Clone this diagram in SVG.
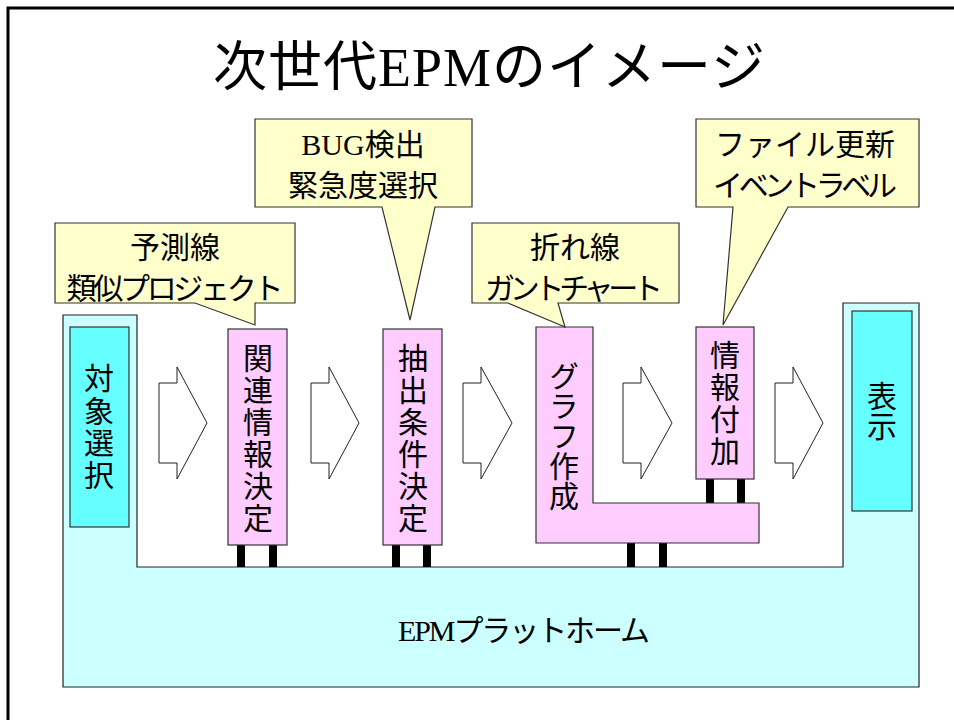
<svg xmlns="http://www.w3.org/2000/svg" width="954" height="720" viewBox="0 0 954 720">
<defs>
<style>
.t{font-family:"Noto Sans CJK JP","Liberation Sans",sans-serif;fill:#000;}
.s{font-family:"Liberation Serif","Noto Sans CJK JP",serif;fill:#000;}
.c{font-size:30px;text-anchor:middle;}
.v{font-size:30px;writing-mode:vertical-rl;text-anchor:start;}
.call{fill:#FFFFCC;stroke:#333;stroke-width:1.2;}
.pink{fill:#FFCCFF;stroke:#333;stroke-width:1.2;}
.cyan{fill:#66FFFF;stroke:#333;stroke-width:1.2;}
.plat{fill:#CCFFFF;stroke:#222;stroke-width:1.2;}
.arr{fill:#FFFFFF;stroke:#222;stroke-width:1;}
.leg{fill:#000;}
</style>
</defs>
<rect x="0" y="0" width="954" height="720" fill="#FFFFFF"/>
<rect x="8" y="8" width="990" height="760" fill="none" stroke="#000" stroke-width="3"/>

<g id="title">
<text class="s" x="489" y="86" font-size="54" text-anchor="middle" textLength="552" lengthAdjust="spacing">次世代EPMのイメージ</text>
</g>

<g id="platform">
<path class="plat" d="M63,315 H137 V567 H843 V303 H919 V687 H63 Z"/>
<text class="s" x="524" y="641" font-size="30" text-anchor="middle" textLength="252" lengthAdjust="spacing">EPMプラットホーム</text>
</g>

<g id="connectors">
<path class="arr" d="M159,383 H177 V367 L207,423 L177,479 V463 H159 Z"/>
<path class="arr" d="M311,383 H329 V367 L359,423 L329,479 V463 H311 Z"/>
<path class="arr" d="M463,383 H481 V367 L512,423 L481,479 V463 H463 Z"/>
<path class="arr" d="M623,383 H641 V367 L672,423 L641,479 V463 H623 Z"/>
<path class="arr" d="M775,383 H793 V367 L823,423 L793,479 V463 H775 Z"/>
<rect class="leg" x="237" y="545" width="8" height="22"/>
<rect class="leg" x="269" y="545" width="8" height="22"/>
<rect class="leg" x="392" y="545" width="8" height="22"/>
<rect class="leg" x="423" y="545" width="8" height="22"/>
<rect class="leg" x="627" y="543" width="8" height="24"/>
<rect class="leg" x="659" y="543" width="8" height="24"/>
<rect class="leg" x="706" y="479" width="8" height="24"/>
<rect class="leg" x="737" y="479" width="8" height="24"/>
</g>

<g id="taisho">
<rect class="cyan" x="70" y="327" width="59" height="200"/>
<text class="t v" x="99" y="363" letter-spacing="2.3">対象選択</text>
</g>

<g id="kanren">
<rect class="pink" x="228" y="329" width="59" height="216"/>
<text class="t v" x="258" y="343" letter-spacing="2">関連情報決定</text>
</g>

<g id="chushutsu">
<rect class="pink" x="383" y="329" width="59" height="216"/>
<text class="t v" x="413" y="343" letter-spacing="2">抽出条件決定</text>
</g>

<g id="graph">
<path class="pink" d="M536,327 H593 V503 H759 V543 H536 Z"/>
<text class="t v" x="564" y="361">グラフ作成</text>
</g>

<g id="johofuka">
<rect class="pink" x="696" y="327" width="58" height="152"/>
<text class="t v" x="725" y="340" letter-spacing="2">情報付加</text>
</g>

<g id="hyoji">
<rect class="cyan" x="852" y="311" width="60" height="200"/>
<text class="t v" x="882" y="381">表示</text>
</g>

<g id="callout1">
<path class="call" d="M55,223 H295 V303 H255 V325 L195,303 H55 Z"/>
<text class="t c"><tspan x="175" y="258">予測線</tspan><tspan x="175" y="299" textLength="217" lengthAdjust="spacing">類似プロジェクト</tspan></text>
</g>

<g id="callout2">
<path class="call" d="M255,119 H472 V207 H435 L410,320 L382,207 H255 Z"/>
<text class="c"><tspan class="s" x="363" y="155">BUG検出</tspan><tspan class="t" x="363" y="196">緊急度選択</tspan></text>
</g>

<g id="callout3">
<path class="call" d="M472,223 H679 V303 H558 L565,327 L508,303 H472 Z"/>
<text class="t c"><tspan x="575" y="258">折れ線</tspan><tspan x="574" y="299" textLength="178" lengthAdjust="spacing">ガントチャート</tspan></text>
</g>

<g id="callout4">
<path class="call" d="M696,119 H919 V207 H788 L723,325 L733,207 H696 Z"/>
<text class="t c"><tspan x="805" y="155" textLength="180" lengthAdjust="spacing">ファイル更新</tspan><tspan x="805" y="196" textLength="184" lengthAdjust="spacing">イベントラベル</tspan></text>
</g>
</svg>
